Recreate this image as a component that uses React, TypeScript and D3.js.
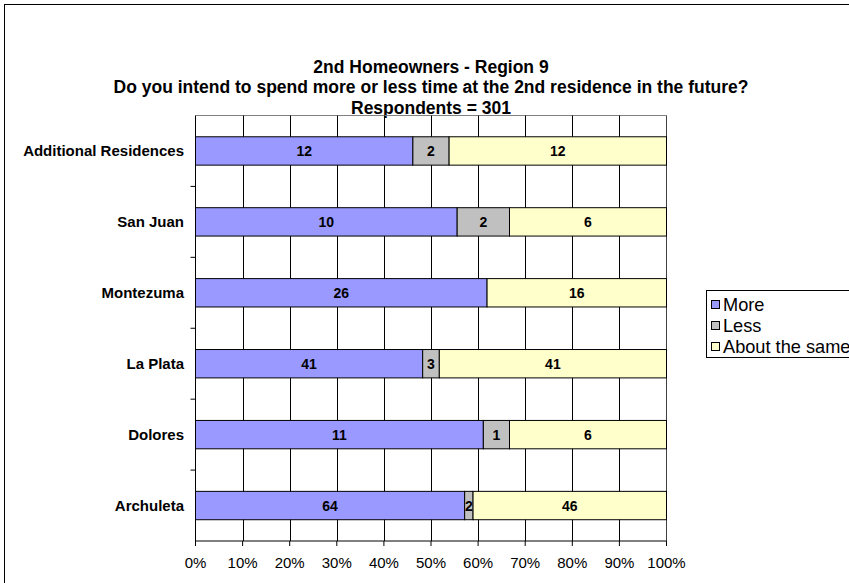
import React from "react";
import * as d3 from "d3";

const categories = ["Additional Residences", "San Juan", "Montezuma", "La Plata", "Dolores", "Archuleta"];
const seriesNames = ["More", "Less", "About the same"];
const moreValues = [12, 10, 26, 41, 11, 64];
const lessValues = [2, 2, 0, 3, 1, 2];
const sameValues = [12, 6, 16, 41, 6, 46];
const tickValues = [0, 0.1, 0.2, 0.3, 0.4, 0.5, 0.6, 0.7, 0.8, 0.9, 1.0];
const titleLines = [
  "2nd Homeowners - Region 9",
  "Do you intend to spend more or less time at the 2nd residence in the future?",
  "Respondents = 301",
];
const colors = ["#9999FF", "#C0C0C0", "#FFFFCC"];

export default function App() {
  const W = 849, H = 583;
  const left = 195.5, right = 666.5, top = 115.5, bottom = 541;
  const font = "'Liberation Sans', Arial, sans-serif";
  const x = d3.scaleLinear().domain([0, 1]).range([left, right]);
  const y = d3.scaleBand().domain(categories).range([top, bottom]).paddingInner(0.6).paddingOuter(0.3);
  const yOuter = d3.scaleBand().domain(categories).range([top, bottom]);
  const series = [moreValues, lessValues, sameValues];
  const rows = categories.map((c, i) => {
    const total = moreValues[i] + lessValues[i] + sameValues[i];
    let acc = 0;
    return series.map((s, k) => {
      const v = s[i];
      const x0 = acc / total;
      acc += v;
      return { c, k, v, x0, x1: acc / total };
    });
  });
  const boundaries = categories.slice(1).map((c) => yOuter(c)!);
  return (
    <svg width={W} height={H} style={{ position: "absolute", left: 0, top: 0, background: "#fff" }} fontFamily={font}>
      <rect x={4.5} y={4.5} width={W + 10} height={H + 10} fill="#fff" stroke="#000" />
      {titleLines.map((t, i) => (
        <text key={i} x={431} y={72.5 + i * 20.5} textAnchor="middle" fontWeight="bold" fontSize={17.5}>{t}</text>
      ))}
      {/* plot border */}
      <line x1={left} x2={right} y1={top} y2={top} stroke="#808080" />
      <line x1={right} x2={right} y1={top} y2={bottom} stroke="#404040" />
      {tickValues.slice(1, -1).map((t) => (
        <line key={t} x1={Math.round(x(t)) + 0.5} x2={Math.round(x(t)) + 0.5} y1={top} y2={bottom} stroke="#000" />
      ))}
      {rows.map((r) =>
        r.filter((d) => d.v > 0).map((d) => (
          <g key={d.c + d.k}>
            <rect x={x(d.x0)} y={y(d.c)} width={x(d.x1) - x(d.x0)} height={y.bandwidth()} fill={colors[d.k]} stroke="#000" />
            <text x={(x(d.x0) + x(d.x1)) / 2} y={y(d.c)! + y.bandwidth() / 2 + 5} textAnchor="middle" fontWeight="bold" fontSize={14}>{d.v}</text>
          </g>
        ))
      )}
      {/* axes */}
      <line x1={left} x2={left} y1={top} y2={bottom} stroke="#000" />
      <line x1={left} x2={right} y1={bottom} y2={bottom} stroke="#000" />
      {boundaries.map((b, i) => (
        <line key={i} x1={left - 5} x2={left} y1={b} y2={b} stroke="#000" />
      ))}
      {tickValues.map((t) => (
        <g key={t}>
          <line x1={x(t)} x2={x(t)} y1={bottom} y2={bottom + 5} stroke="#000" />
          <text x={x(t)} y={bottom + 27} textAnchor="middle" fontSize={15}>{d3.format(".0%")(t)}</text>
        </g>
      ))}
      {categories.map((c) => (
        <text key={c} x={184} y={yOuter(c)! + yOuter.bandwidth() / 2 + 5.5} textAnchor="end" fontWeight="bold" fontSize={15}>{c}</text>
      ))}
      {/* legend */}
      <rect x={706.5} y={290.5} width={160} height={67} fill="#fff" stroke="#000" />
      {seriesNames.map((n, i) => (
        <g key={n}>
          <rect x={711.5} y={300.5 + i * 21} width={8} height={8} fill={colors[i]} stroke="#000" />
          <text x={723} y={311 + i * 21} fontSize={18.2}>{n}</text>
        </g>
      ))}
    </svg>
  );
}
